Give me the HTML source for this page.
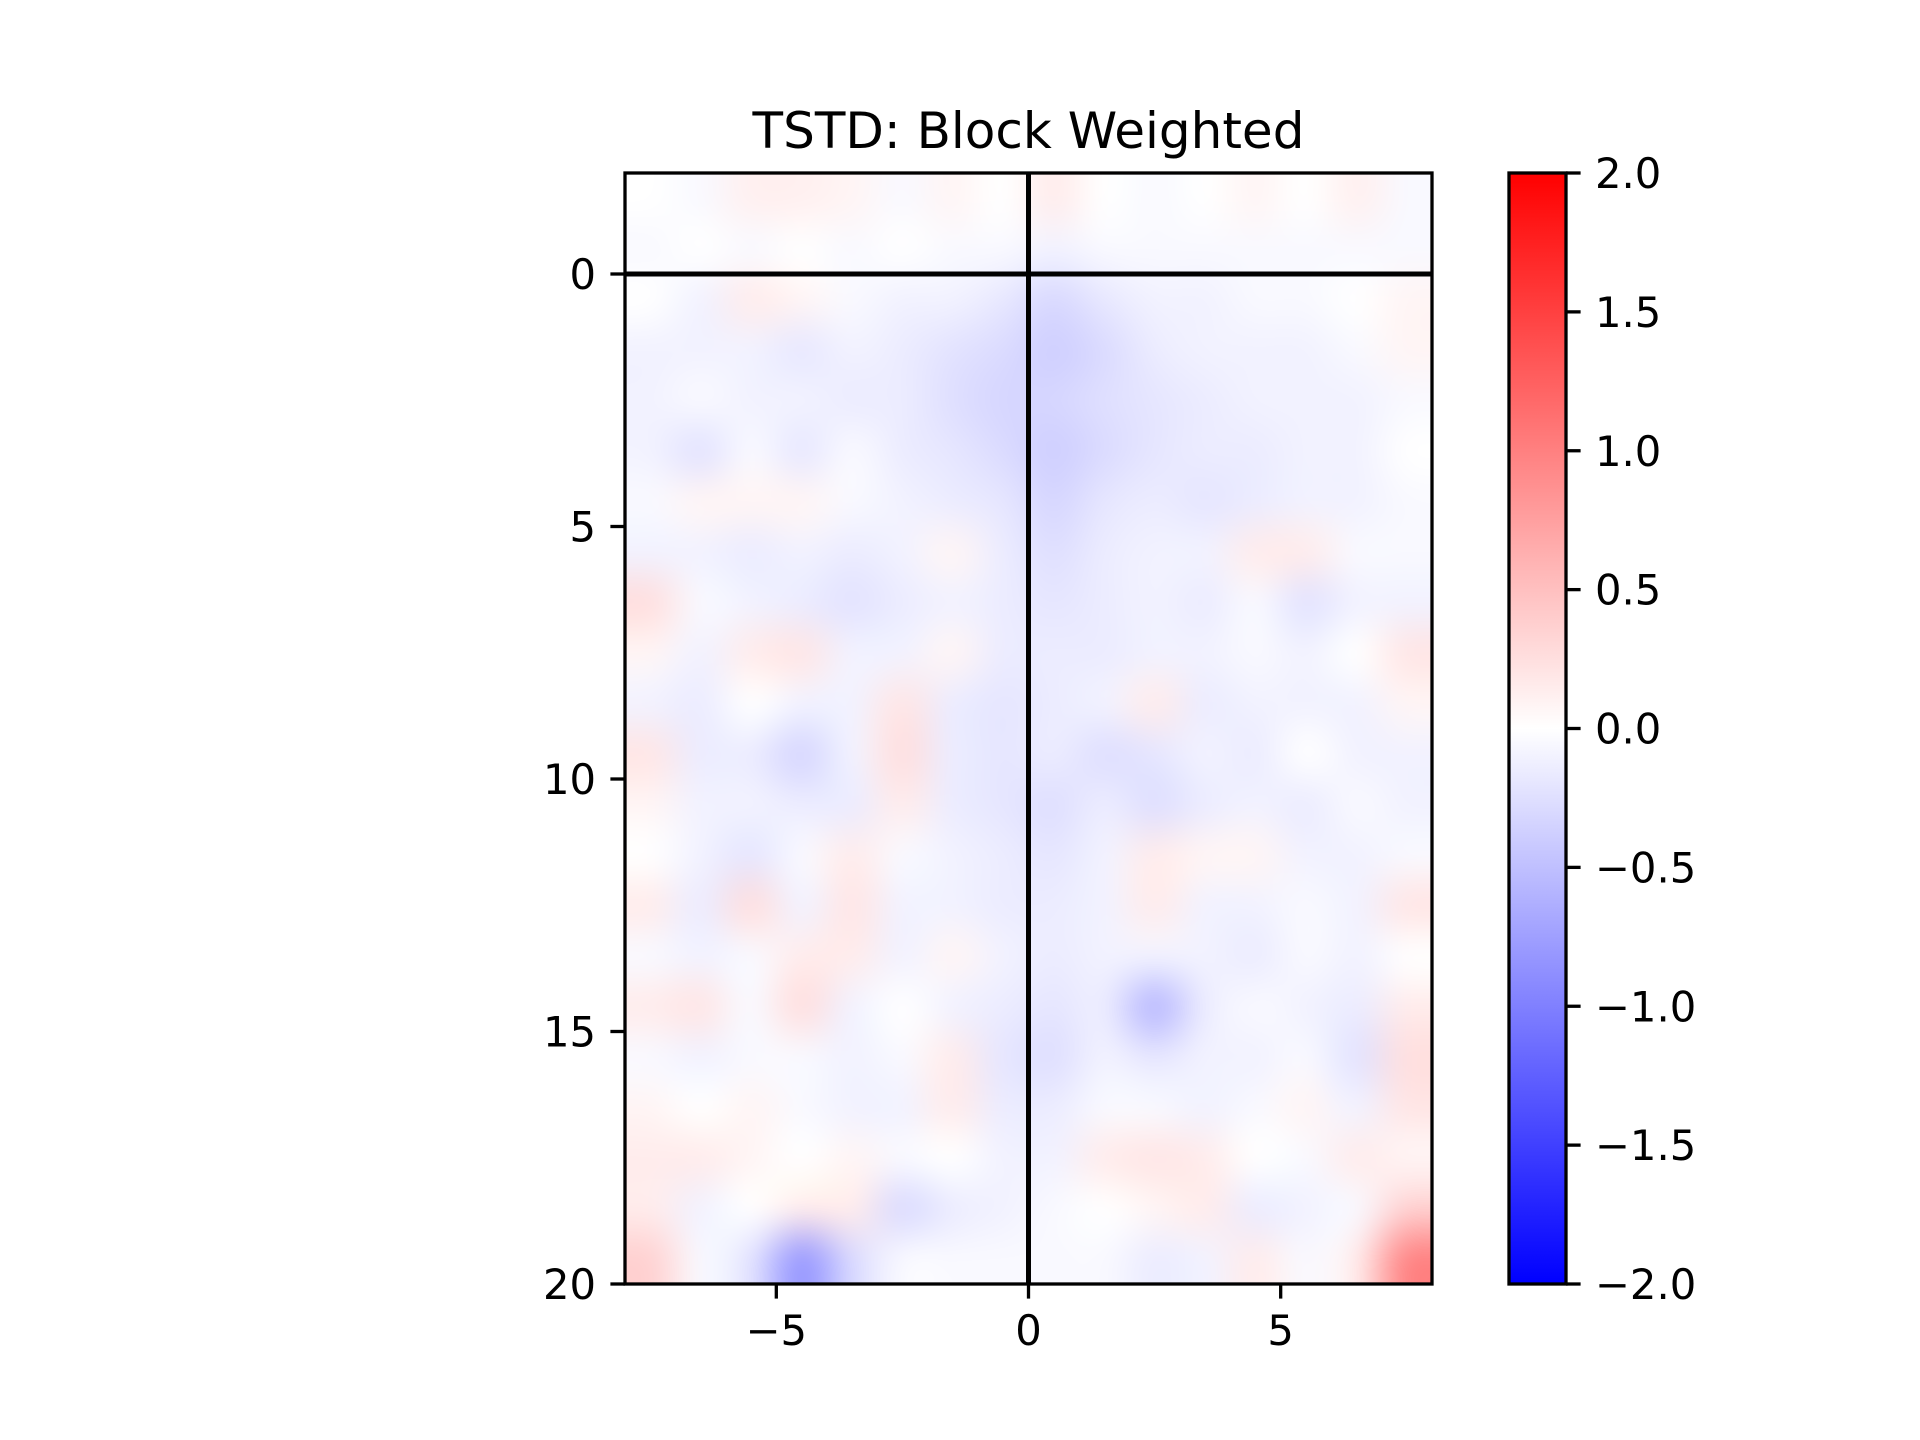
<!DOCTYPE html>
<html><head><meta charset="utf-8"><style>
body{margin:0;background:#fff;}
#wrap{position:relative;width:1920px;height:1440px;overflow:hidden;background:#fff;}
canvas{position:absolute;}
svg{position:absolute;left:0;top:0;}
text{font-family:"DejaVu Sans","Liberation Sans",sans-serif;fill:#000;}
</style></head><body>
<div id="wrap">
<canvas id="hm"></canvas>
<svg id="svg" width="1920" height="1440"></svg>
</div>
<script>
const xCenters=[-7.5,-6.5,-5.5,-4.5,-3.5,-2.5,-1.5,-0.5,0.5,1.5,2.5,3.5,4.5,5.5,6.5,7.5];
const yCenters=[-1.5,-0.5,0.5,1.5,2.5,3.5,4.5,5.5,6.5,7.5,8.5,9.5,10.5,11.5,12.5,13.5,14.5,15.5,16.5,17.5,18.5,19.5];
const values=[
[0,-0.05,0.12,0.12,0.08,-0.05,0.08,0,0.15,0,-0.05,0,0.08,0,0.12,-0.05],
[-0.05,0,-0.05,0,-0.05,0,-0.05,-0.05,-0.1,-0.05,-0.05,-0.05,-0.05,-0.05,-0.05,-0.05],
[0,-0.1,0.15,0.08,-0.05,-0.1,-0.1,-0.18,-0.3,-0.18,-0.1,-0.1,-0.05,-0.05,0,0.08],
[-0.1,-0.1,-0.1,-0.18,-0.1,-0.15,-0.22,-0.28,-0.38,-0.28,-0.15,-0.1,-0.1,-0.1,-0.05,0.08],
[-0.1,-0.05,-0.1,-0.1,-0.15,-0.15,-0.25,-0.32,-0.32,-0.25,-0.2,-0.15,-0.1,-0.1,-0.1,-0.05],
[-0.1,-0.22,-0.05,-0.18,-0.05,-0.15,-0.2,-0.28,-0.38,-0.28,-0.2,-0.15,-0.15,-0.1,-0.1,0],
[-0.05,0.08,0.08,0.08,-0.05,-0.1,-0.15,-0.2,-0.32,-0.2,-0.15,-0.2,-0.15,-0.1,-0.1,-0.05],
[-0.1,-0.1,-0.15,-0.1,-0.15,-0.1,0.08,-0.15,-0.25,-0.15,-0.1,-0.1,0.15,0.15,-0.05,-0.05],
[0.25,-0.05,-0.1,-0.15,-0.22,-0.15,-0.1,-0.15,-0.2,-0.15,-0.1,-0.15,-0.05,-0.22,-0.1,-0.1],
[0.08,-0.1,0.15,0.2,-0.1,-0.1,0.08,-0.15,-0.15,-0.15,-0.1,-0.1,-0.05,-0.1,0,0.2],
[-0.1,-0.15,0,-0.1,-0.1,0.2,-0.15,-0.2,-0.15,-0.1,0.15,-0.15,-0.1,-0.1,-0.1,0.08],
[0.2,-0.15,-0.15,-0.32,-0.1,0.25,-0.15,-0.2,-0.15,-0.25,-0.2,-0.1,-0.15,0,-0.1,-0.1],
[0.08,-0.1,-0.1,-0.15,-0.15,0.15,-0.15,-0.2,-0.25,-0.15,-0.25,-0.15,-0.1,-0.15,-0.05,-0.1],
[0,-0.1,-0.2,-0.05,0.15,-0.05,-0.1,-0.15,-0.2,-0.1,0.15,0.08,0.08,-0.1,-0.1,-0.05],
[0.15,-0.15,0.25,-0.1,0.2,-0.1,-0.1,-0.15,-0.15,-0.1,0.15,-0.1,-0.1,-0.05,-0.1,0.2],
[-0.05,-0.1,-0.05,0.15,0.15,-0.1,0.08,-0.1,-0.15,-0.1,-0.1,-0.1,-0.15,-0.05,-0.1,0],
[0.15,0.2,-0.05,0.25,-0.1,0,-0.1,-0.15,-0.2,-0.15,-0.55,-0.15,-0.05,-0.1,-0.15,0.15],
[-0.05,-0.1,-0.05,-0.05,-0.1,-0.05,0.15,-0.2,-0.25,-0.1,-0.2,-0.1,-0.1,-0.05,-0.22,0.25],
[0.08,0,0.08,-0.05,-0.1,-0.1,0.15,-0.15,-0.15,-0.05,-0.05,-0.1,-0.05,0.08,-0.1,0.2],
[0.15,0.15,0.08,0,0.08,-0.05,0,-0.1,-0.1,0.15,0.2,0.15,0,-0.05,0.15,0.08],
[0.15,-0.1,0,0.15,0.15,-0.28,-0.15,-0.1,-0.05,0,0.08,0.15,-0.15,-0.1,-0.05,0.35],
[0.35,-0.05,-0.22,-0.8,-0.3,-0.05,-0.05,-0.05,-0.05,-0.05,-0.15,-0.1,0.15,-0.05,0.15,0.95]
];
const xTicks=[-5,0,5];
const yTicks=[0,5,10,15,20];
const cbTicks=[2.0,1.5,1.0,0.5,0.0,-0.5,-1.0,-1.5,-2.0];
const titleText="TSTD: Block Weighted";

const L=625,R=1432,T=173,B=1284;
const xMin=-8,xMax=8,yMin=-2,yMax=20,vMin=-2,vMax=2;
const sx=v=>L+(v-xMin)/(xMax-xMin)*(R-L);
const sy=v=>T+(v-yMin)/(yMax-yMin)*(B-T);
const CL=1509,CR=1566;
const sc=v=>B-(v-vMin)/(vMax-vMin)*(B-T);
function bwr(v){let t=Math.max(-1,Math.min(1,v/2));
 if(t<0){const c=Math.round(255*(1+t));return [c,c,255];}
 const c=Math.round(255*(1-t));return [255,c,c];}
function fmt(v){const s=Math.abs(v).toFixed(1);return (v<0?"\u2212":"")+s;}
function fmtI(v){return (v<0?"\u2212":"")+Math.abs(v);}

const small=document.createElement('canvas');
small.width=xCenters.length;small.height=yCenters.length;
const sctx=small.getContext('2d');
const img=sctx.createImageData(small.width,small.height);
values.forEach((row,j)=>row.forEach((v,i)=>{const c=bwr(v);const k=(j*small.width+i)*4;
 img.data[k]=c[0];img.data[k+1]=c[1];img.data[k+2]=c[2];img.data[k+3]=255;}));
sctx.putImageData(img,0,0);
const hm=document.getElementById('hm');
const x0=sx(xCenters[0]-0.5),x1=sx(xCenters[xCenters.length-1]+0.5);
const y0=sy(yCenters[0]-0.5),y1=sy(yCenters[yCenters.length-1]+0.5);
hm.width=Math.round(x1-x0);hm.height=Math.round(y1-y0);
hm.style.left=x0+'px';hm.style.top=y0+'px';
const hctx=hm.getContext('2d');hctx.imageSmoothingEnabled=true;hctx.imageSmoothingQuality='high';
hctx.drawImage(small,0,0,hm.width,hm.height);

const svg=document.getElementById('svg');const NS="http://www.w3.org/2000/svg";
function add(tag,attrs,parent){const e=document.createElementNS(NS,tag);for(const k in attrs)e.setAttribute(k,attrs[k]);(parent||svg).appendChild(e);return e;}
const defs=add('defs',{});
const g=add('linearGradient',{id:'cbg',x1:0,y1:1,x2:0,y2:0},defs);
for(let i=0;i<=20;i++){const v=vMin+i/20*(vMax-vMin);const c=bwr(v);add('stop',{offset:i/20,'stop-color':`rgb(${c})`},g);}
let e;
e=add('rect',{x:CL,y:T,width:CR-CL,height:B-T,fill:'url(#cbg)',stroke:'#000','stroke-width':3.3});


cbTicks.forEach(v=>{const y=sc(v);
 e=add('line',{x1:CR,x2:CR+14.6,y1:y,y2:y,stroke:'#000','stroke-width':3.3});
 
 
 e=add('text',{x:CR+29,y:y+15,'font-size':41.7});e.textContent=fmt(v);
 
 
});
e=add('line',{x1:sx(0),x2:sx(0),y1:T,y2:B,stroke:'#000','stroke-width':5});


e=add('line',{x1:L,x2:R,y1:sy(0),y2:sy(0),stroke:'#000','stroke-width':5});


e=add('rect',{x:L,y:T,width:R-L,height:B-T,fill:'none',stroke:'#000','stroke-width':3.3});


xTicks.forEach(v=>{const x=sx(v);
 e=add('line',{x1:x,x2:x,y1:B,y2:B+14.6,stroke:'#000','stroke-width':3.3});
 
 
 e=add('text',{x:x,y:B+61,'font-size':41.7,'text-anchor':'middle'});e.textContent=fmtI(v);
 
 
});
yTicks.forEach(v=>{const y=sy(v);
 e=add('line',{x1:L-14.6,x2:L,y1:y,y2:y,stroke:'#000','stroke-width':3.3});
 
 
 e=add('text',{x:L-29,y:y+15,'font-size':41.7,'text-anchor':'end'});e.textContent=fmtI(v);
 
 
});
e=add('text',{x:(L+R)/2,y:148,'font-size':50,'text-anchor':'middle'});e.textContent=titleText;


</script>
</body></html>
